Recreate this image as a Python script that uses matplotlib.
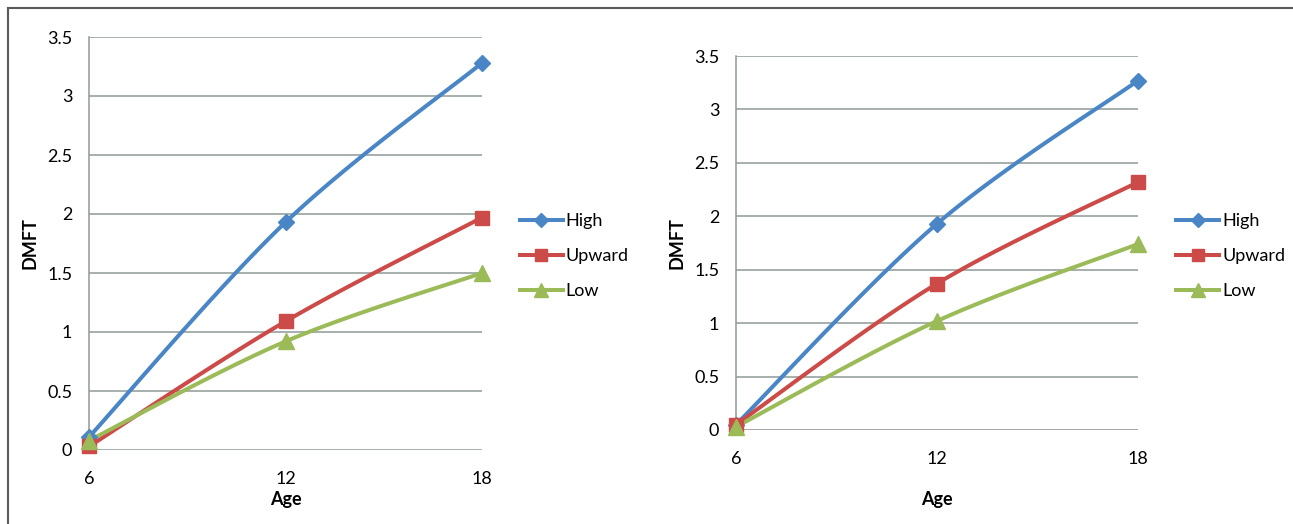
import numpy as np
import matplotlib.pyplot as plt
from matplotlib.lines import Line2D

plt.rcParams['font.family'] = ['Lato', 'DejaVu Sans']

# data
ages = [6, 12, 18]
series = ['High', 'Upward', 'Low']
left_high = [0.11, 1.93, 3.28]
left_upward = [0.03, 1.09, 1.97]
left_low = [0.08, 0.92, 1.50]
right_high = [0.05, 1.93, 3.27]
right_upward = [0.05, 1.37, 2.32]
right_low = [0.03, 1.02, 1.74]

colors = ['#4A86C6', '#CC4B48', '#9BBB59']
markers = ['D', 's', '^']
msizes = [8.5, 10, 11]
grid_col = '#8f9a96'


def smooth(x, y, n=40):
    # Excel style smoothing: catmull-rom as cubic bezier
    x = np.asarray(x, float)
    y = np.asarray(y, float)
    px = np.concatenate([[x[0]], x, [x[-1]]])
    py = np.concatenate([[y[0]], y, [y[-1]]])
    xs, ys = [], []
    t = np.linspace(0, 1, n)
    for i in range(1, len(px) - 2):
        p0 = np.array([px[i], py[i]])
        p3 = np.array([px[i + 1], py[i + 1]])
        c1 = p0 + (np.array([px[i + 1], py[i + 1]]) - np.array([px[i - 1], py[i - 1]])) / 6.
        c2 = p3 - (np.array([px[i + 2], py[i + 2]]) - np.array([px[i], py[i]])) / 6.
        b = (np.outer((1 - t) ** 3, p0) + np.outer(3 * (1 - t) ** 2 * t, c1)
             + np.outer(3 * (1 - t) * t ** 2, c2) + np.outer(t ** 3, p3))
        xs.append(b[:, 0])
        ys.append(b[:, 1])
    return np.concatenate(xs), np.concatenate(ys)


fig = plt.figure(figsize=(12.93, 5.24), dpi=100)

ax1 = fig.add_axes([89 / 1293, 1 - 450 / 524, 393 / 1293, 413 / 524])
ax2 = fig.add_axes([736 / 1293, 1 - 430 / 524, 402 / 1293, 374 / 524])

panels = [
    (ax1, [left_high, left_upward, left_low], 30 / 1293, -0.121, 0.402),
    (ax2, [right_high, right_upward, right_low], 677 / 1293, -0.187, 0.9095),
]

for ax, data, ylab_x, xlab_y, leg_x in panels:
    handles = []
    for vals, name, c, m, ms in zip(data, series, colors, markers, msizes):
        sx, sy = smooth(ages, vals)
        ax.plot(sx, sy, color=c, lw=2.9, solid_capstyle='round', clip_on=False, zorder=3)
        ax.plot(ages, vals, ls='none', marker=m, ms=ms, color=c, mec=c, clip_on=False, zorder=4)
        handles.append(Line2D([], [], color=c, lw=2.9, marker=m, ms=ms - 1, mec=c))
    ax.set_xlim(6, 18)
    ax.set_ylim(0, 3.5)
    ax.set_xticks(ages)
    ax.set_xticklabels([str(a) for a in ages])
    ax.set_yticks(np.arange(0, 3.51, 0.5))
    ax.set_yticklabels(['0', '0.5', '1', '1.5', '2', '2.5', '3', '3.5'])
    ax.tick_params(length=0, labelsize=13, colors='black')
    ax.tick_params(axis='x', pad=15)
    ax.tick_params(axis='y', pad=12)
    ax.grid(axis='y', color=grid_col, lw=1.1)
    ax.set_axisbelow(True)
    for s in ['top', 'right', 'bottom']:
        ax.spines[s].set_visible(False)
    ax.spines['left'].set_color(grid_col)
    ax.spines['left'].set_linewidth(1.1)
    fig.text(ylab_x, 1 - 243 / 524, 'DMFT', rotation=90, ha='center', va='center',
             fontsize=13, fontweight='bold')
    ax.text(0.5, xlab_y, 'Age', transform=ax.transAxes, ha='center', va='center',
            fontsize=13, fontweight='bold')
    fig.legend(handles, series, loc='center left', bbox_to_anchor=(leg_x, 1 - 256 / 524),
               frameon=False, fontsize=13, handlelength=2.4, handletextpad=0.15,
               labelspacing=1.05, borderpad=0, borderaxespad=0)

ax2.axhline(0, color='#a6a6a6', lw=2, zorder=1)

# outer frame lines
fig.add_artist(Line2D([8 / 1293, 1], [1 - 8 / 524, 1 - 8 / 524], color='#5a5a5a', lw=1.5))
fig.add_artist(Line2D([8 / 1293, 8 / 1293], [0, 1 - 8 / 524], color='#5a5a5a', lw=1.5))

fig.savefig('out.png', dpi=100)
